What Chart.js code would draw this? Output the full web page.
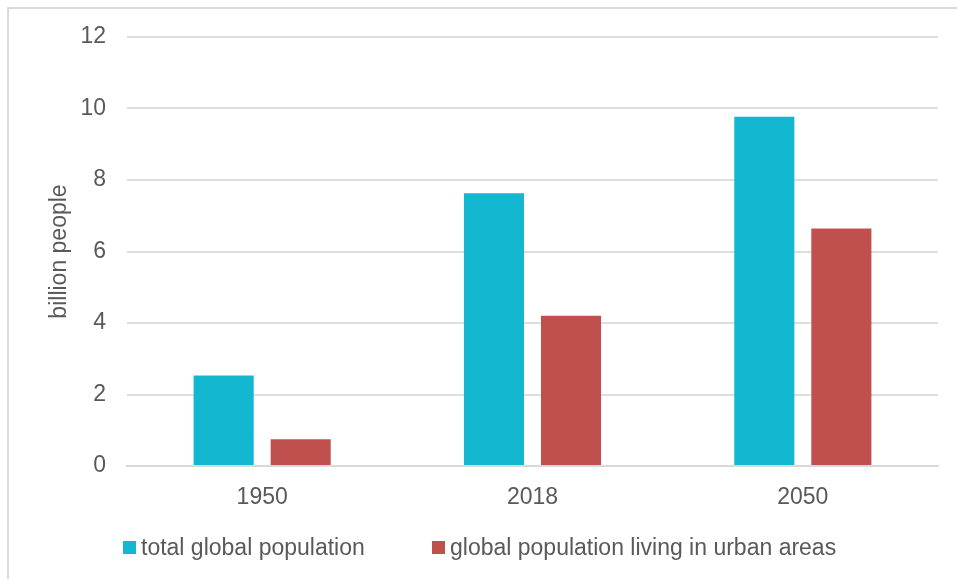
<!DOCTYPE html>
<html>
<head>
<meta charset="utf-8">
<title>Global population</title>
<script src="https://cdn.jsdelivr.net/npm/chart.js@4"></script>
<style>
  body { margin: 0; background: #fff; overflow: hidden; font-family: 'Liberation Sans', Arial, sans-serif; }
  #frame {
    position: absolute; left: 7px; top: 7px; width: 980px; height: 620px;
    border-top: 2px solid #d9d9d9; border-left: 2px solid #d9d9d9;
  }
  #wrap { position: absolute; left: 0; top: 0; width: 957px; height: 579px; }
  .legend-item {
    position: absolute; top: 533px; height: 28px; line-height: 28px;
    font-size: 23px; color: #595959; white-space: nowrap;
  }
  .legend-item span.box {
    display: inline-block; width: 13px; height: 13px; margin-right: 5px;
    vertical-align: middle; position: relative; top: -1px;
  }
</style>
</head>
<body>
<div id="frame"></div>
<div id="wrap"><canvas id="chart-area" width="957" height="579"></canvas></div>
<div id="legend"></div>
<script>
const years = ['1950', '2018', '2050'];
const totalPop = [2.53, 7.63, 9.77];
const urbanPop = [0.75, 4.2, 6.64];
const yTicks = [0, 2, 4, 6, 8, 10, 12];
const seriesNames = ['total global population', 'global population living in urban areas'];
const seriesColors = ['#13b7d0', '#c0504d'];

const font = { family: "'Liberation Sans', Arial, sans-serif", size: 23 };
const textColor = '#595959';

const ctx = document.getElementById('chart-area').getContext('2d');
const config = {
  type: 'bar',
  data: {
    labels: years,
    datasets: [{
      label: seriesNames[0],
      data: totalPop,
      backgroundColor: seriesColors[0],
      borderWidth: 0
    }, {
      label: seriesNames[1],
      data: urbanPop,
      backgroundColor: seriesColors[1],
      borderWidth: 0
    }]
  },
  options: {
    responsive: false,
    animation: false,
    devicePixelRatio: 1,
    categoryPercentage: 0.57,
    barPercentage: 0.78,
    layout: { padding: { top: 37, right: 19, bottom: 63, left: 0 } },
    plugins: {
      tooltip: { enabled: false },
      legend: { display: false }
    },
    scales: {
      x: {
        grid: { display: false },
        border: { color: '#d9d9d9', width: 2 },
        ticks: { font: font, color: textColor, padding: 10 },
        afterFit: (scale) => { scale.height = 50; }
      },
      y: {
        min: 0,
        max: 12,
        afterBuildTicks: (scale) => { scale.ticks = yTicks.map(v => ({ value: v })); },
        grid: { color: '#dedede', lineWidth: 2, drawTicks: false },
        border: { display: false },
        ticks: { font: font, color: textColor, padding: 21 },
        title: {
          display: true,
          text: 'billion people',
          font: font,
          color: textColor,
          padding: { top: 46, bottom: 0 }
        },
        afterFit: (scale) => { scale.width = 127; }
      }
    }
  }
};
window.myBar = new Chart(ctx, config);

// legend built from the chart's datasets
const legendX = [123, 432];
let legendHtml = '';
window.myBar.data.datasets.forEach((ds, i) => {
  legendHtml += `<div class="legend-item" style="left:${legendX[i]}px"><span class="box" style="background:${ds.backgroundColor}"></span>${ds.label}</div>`;
});
document.getElementById('legend').innerHTML = legendHtml;
</script>
</body>
</html>
